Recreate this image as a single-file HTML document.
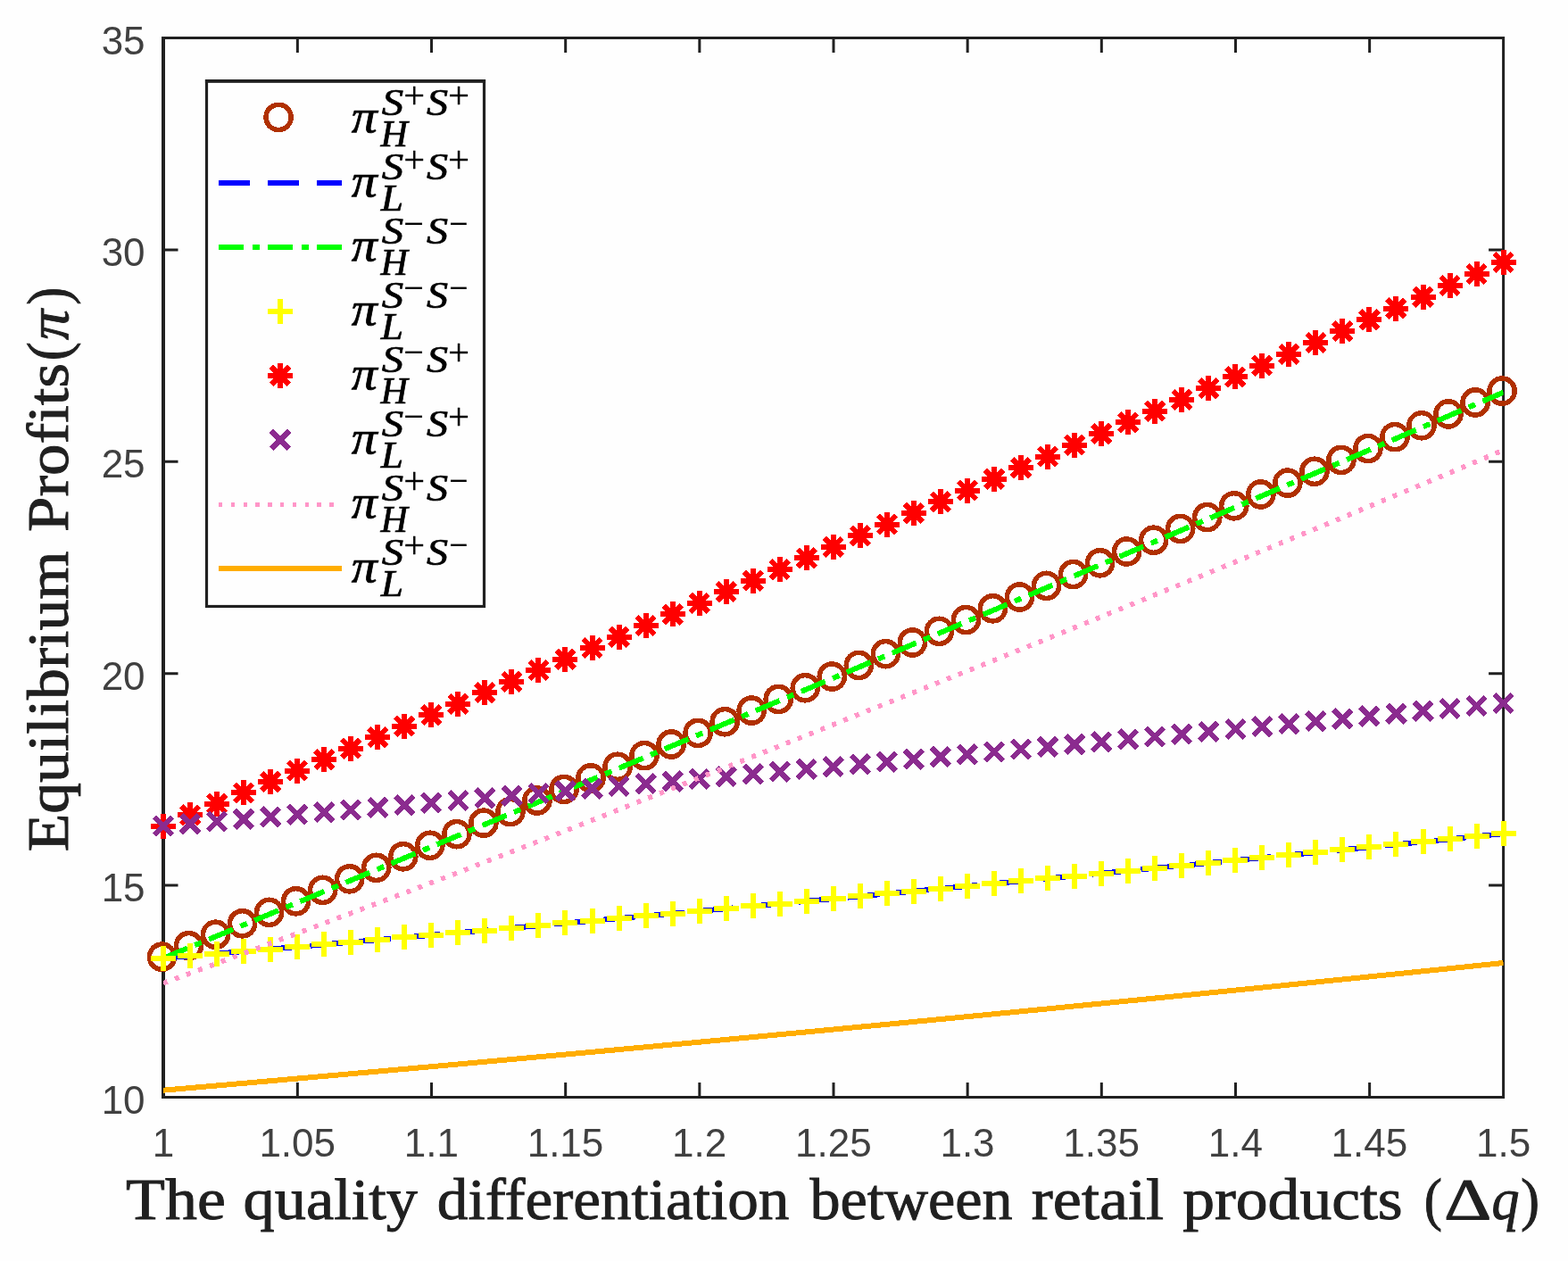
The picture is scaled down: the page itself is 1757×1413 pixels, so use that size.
<!DOCTYPE html>
<html lang="en"><head><meta charset="utf-8"><title>Equilibrium Profits</title>
<style>html,body{margin:0;padding:0;background:#fff;}svg{display:block;}.tk{font-family:"Liberation Sans",sans-serif;font-size:44px;fill:#404040;}.lb{font-family:"Liberation Serif",serif;font-size:65px;fill:#202020;stroke:#202020;stroke-width:0.9px;}.lg{font-family:"Liberation Serif",serif;fill:#000;stroke:#000;stroke-width:0.7px;}</style></head><body>
<svg width="1757" height="1413" viewBox="0 0 1757 1413">
<rect x="0" y="0" width="1757" height="1413" fill="#fefefe"/>
<defs><clipPath id="cp"><rect x="183.0" y="42.5" width="1501.6" height="1187.0"/></clipPath></defs>
<g fill="none" stroke="#202020" stroke-width="3">
<rect x="183.0" y="42.5" width="1501.6" height="1187.0"/>
<line x1="183.0" y1="41.0" x2="183.0" y2="1231.0" stroke-width="4"/>
<path d="M333.36 1229.50V1213.00M333.36 42.50V59.00M483.52 1229.50V1213.00M483.52 42.50V59.00M633.68 1229.50V1213.00M633.68 42.50V59.00M783.84 1229.50V1213.00M783.84 42.50V59.00M934.00 1229.50V1213.00M934.00 42.50V59.00M1084.16 1229.50V1213.00M1084.16 42.50V59.00M1234.32 1229.50V1213.00M1234.32 42.50V59.00M1384.48 1229.50V1213.00M1384.48 42.50V59.00M1534.64 1229.50V1213.00M1534.64 42.50V59.00M183.00 992.10H199.50M1684.60 992.10H1668.10M183.00 754.70H199.50M1684.60 754.70H1668.10M183.00 517.30H199.50M1684.60 517.30H1668.10M183.00 279.90H199.50M1684.60 279.90H1668.10"/>
</g>
<g class="tk">
<text x="183.0" y="1296" text-anchor="middle">1</text>
<text x="333.2" y="1296" text-anchor="middle">1.05</text>
<text x="483.3" y="1296" text-anchor="middle">1.1</text>
<text x="633.5" y="1296" text-anchor="middle">1.15</text>
<text x="783.6" y="1296" text-anchor="middle">1.2</text>
<text x="933.8" y="1296" text-anchor="middle">1.25</text>
<text x="1084.0" y="1296" text-anchor="middle">1.3</text>
<text x="1234.1" y="1296" text-anchor="middle">1.35</text>
<text x="1384.3" y="1296" text-anchor="middle">1.4</text>
<text x="1534.4" y="1296" text-anchor="middle">1.45</text>
<text x="1684.6" y="1296" text-anchor="middle">1.5</text>
<text x="162.6" y="1247.5" text-anchor="end">10</text>
<text x="162.6" y="1010.1" text-anchor="end">15</text>
<text x="162.6" y="772.7" text-anchor="end">20</text>
<text x="162.6" y="535.3" text-anchor="end">25</text>
<text x="162.6" y="297.9" text-anchor="end">30</text>
<text x="162.6" y="60.5" text-anchor="end">35</text>
</g>
<g shape-rendering="crispEdges">
<g fill="none" stroke="#B03000" stroke-width="5.5"><circle cx="181.50" cy="1072.17" r="14.1"/><circle cx="211.53" cy="1059.72" r="14.1"/><circle cx="241.56" cy="1047.26" r="14.1"/><circle cx="271.60" cy="1034.79" r="14.1"/><circle cx="301.63" cy="1022.31" r="14.1"/><circle cx="331.66" cy="1009.82" r="14.1"/><circle cx="361.69" cy="997.33" r="14.1"/><circle cx="391.72" cy="984.82" r="14.1"/><circle cx="421.76" cy="972.31" r="14.1"/><circle cx="451.79" cy="959.78" r="14.1"/><circle cx="481.82" cy="947.25" r="14.1"/><circle cx="511.85" cy="934.70" r="14.1"/><circle cx="541.88" cy="922.15" r="14.1"/><circle cx="571.92" cy="909.58" r="14.1"/><circle cx="601.95" cy="897.01" r="14.1"/><circle cx="631.98" cy="884.43" r="14.1"/><circle cx="662.01" cy="871.84" r="14.1"/><circle cx="692.04" cy="859.24" r="14.1"/><circle cx="722.08" cy="846.63" r="14.1"/><circle cx="752.11" cy="834.01" r="14.1"/><circle cx="782.14" cy="821.38" r="14.1"/><circle cx="812.17" cy="808.74" r="14.1"/><circle cx="842.20" cy="796.09" r="14.1"/><circle cx="872.24" cy="783.43" r="14.1"/><circle cx="902.27" cy="770.76" r="14.1"/><circle cx="932.30" cy="758.09" r="14.1"/><circle cx="962.33" cy="745.40" r="14.1"/><circle cx="992.36" cy="732.70" r="14.1"/><circle cx="1022.40" cy="720.00" r="14.1"/><circle cx="1052.43" cy="707.28" r="14.1"/><circle cx="1082.46" cy="694.56" r="14.1"/><circle cx="1112.49" cy="681.82" r="14.1"/><circle cx="1142.52" cy="669.08" r="14.1"/><circle cx="1172.56" cy="656.33" r="14.1"/><circle cx="1202.59" cy="643.56" r="14.1"/><circle cx="1232.62" cy="630.79" r="14.1"/><circle cx="1262.65" cy="618.01" r="14.1"/><circle cx="1292.68" cy="605.22" r="14.1"/><circle cx="1322.72" cy="592.42" r="14.1"/><circle cx="1352.75" cy="579.61" r="14.1"/><circle cx="1382.78" cy="566.79" r="14.1"/><circle cx="1412.81" cy="553.96" r="14.1"/><circle cx="1442.84" cy="541.12" r="14.1"/><circle cx="1472.88" cy="528.27" r="14.1"/><circle cx="1502.91" cy="515.42" r="14.1"/><circle cx="1532.94" cy="502.55" r="14.1"/><circle cx="1562.97" cy="489.67" r="14.1"/><circle cx="1593.00" cy="476.79" r="14.1"/><circle cx="1623.04" cy="463.89" r="14.1"/><circle cx="1653.07" cy="450.98" r="14.1"/><circle cx="1683.10" cy="438.07" r="14.1"/></g>
<polyline points="183.00,1073.77 213.03,1071.22 243.06,1068.66 273.10,1066.09 303.13,1063.51 333.16,1060.92 363.19,1058.32 393.22,1055.71 423.26,1053.09 453.29,1050.46 483.32,1047.82 513.35,1045.17 543.38,1042.52 573.42,1039.85 603.45,1037.17 633.48,1034.48 663.51,1031.78 693.54,1029.07 723.58,1026.36 753.61,1023.63 783.64,1020.89 813.67,1018.14 843.70,1015.39 873.74,1012.62 903.77,1009.84 933.80,1007.06 963.83,1004.26 993.86,1001.45 1023.90,998.64 1053.93,995.81 1083.96,992.97 1113.99,990.13 1144.02,987.27 1174.06,984.41 1204.09,981.53 1234.12,978.64 1264.15,975.75 1294.18,972.84 1324.22,969.93 1354.25,967.00 1384.28,964.07 1414.31,961.12 1444.34,958.17 1474.38,955.20 1504.41,952.23 1534.44,949.24 1564.47,946.25 1594.50,943.25 1624.54,940.23 1654.57,937.21 1684.60,934.17" fill="none" stroke="#0000FF" stroke-width="6.0" stroke-dasharray="36 19" clip-path="url(#cp)"/>
<polyline points="183.00,1073.77 213.03,1061.32 243.06,1048.86 273.10,1036.39 303.13,1023.91 333.16,1011.42 363.19,998.93 393.22,986.42 423.26,973.91 453.29,961.38 483.32,948.85 513.35,936.30 543.38,923.75 573.42,911.18 603.45,898.61 633.48,886.03 663.51,873.44 693.54,860.84 723.58,848.23 753.61,835.61 783.64,822.98 813.67,810.34 843.70,797.69 873.74,785.03 903.77,772.36 933.80,759.69 963.83,747.00 993.86,734.30 1023.90,721.60 1053.93,708.88 1083.96,696.16 1113.99,683.42 1144.02,670.68 1174.06,657.93 1204.09,645.16 1234.12,632.39 1264.15,619.61 1294.18,606.82 1324.22,594.02 1354.25,581.21 1384.28,568.39 1414.31,555.56 1444.34,542.72 1474.38,529.87 1504.41,517.02 1534.44,504.15 1564.47,491.27 1594.50,478.39 1624.54,465.49 1654.57,452.58 1684.60,439.67" fill="none" stroke="#00FF00" stroke-width="6.0" stroke-dasharray="29.2 9.05 8.05 9.04" clip-path="url(#cp)"/>
<path d="M169.00 1073.77h28m-14 -14v28M199.03 1071.22h28m-14 -14v28M229.06 1068.66h28m-14 -14v28M259.10 1066.09h28m-14 -14v28M289.13 1063.51h28m-14 -14v28M319.16 1060.92h28m-14 -14v28M349.19 1058.32h28m-14 -14v28M379.22 1055.71h28m-14 -14v28M409.26 1053.09h28m-14 -14v28M439.29 1050.46h28m-14 -14v28M469.32 1047.82h28m-14 -14v28M499.35 1045.17h28m-14 -14v28M529.38 1042.52h28m-14 -14v28M559.42 1039.85h28m-14 -14v28M589.45 1037.17h28m-14 -14v28M619.48 1034.48h28m-14 -14v28M649.51 1031.78h28m-14 -14v28M679.54 1029.07h28m-14 -14v28M709.58 1026.36h28m-14 -14v28M739.61 1023.63h28m-14 -14v28M769.64 1020.89h28m-14 -14v28M799.67 1018.14h28m-14 -14v28M829.70 1015.39h28m-14 -14v28M859.74 1012.62h28m-14 -14v28M889.77 1009.84h28m-14 -14v28M919.80 1007.06h28m-14 -14v28M949.83 1004.26h28m-14 -14v28M979.86 1001.45h28m-14 -14v28M1009.90 998.64h28m-14 -14v28M1039.93 995.81h28m-14 -14v28M1069.96 992.97h28m-14 -14v28M1099.99 990.13h28m-14 -14v28M1130.02 987.27h28m-14 -14v28M1160.06 984.41h28m-14 -14v28M1190.09 981.53h28m-14 -14v28M1220.12 978.64h28m-14 -14v28M1250.15 975.75h28m-14 -14v28M1280.18 972.84h28m-14 -14v28M1310.22 969.93h28m-14 -14v28M1340.25 967.00h28m-14 -14v28M1370.28 964.07h28m-14 -14v28M1400.31 961.12h28m-14 -14v28M1430.34 958.17h28m-14 -14v28M1460.38 955.20h28m-14 -14v28M1490.41 952.23h28m-14 -14v28M1520.44 949.24h28m-14 -14v28M1550.47 946.25h28m-14 -14v28M1580.50 943.25h28m-14 -14v28M1610.54 940.23h28m-14 -14v28M1640.57 937.21h28m-14 -14v28M1670.60 934.17h28m-14 -14v28" fill="none" stroke="#FFFF00" stroke-width="6.0"/>
<path d="M169.00 925.63h28m-14 -14v28m-10 -24l20 20m-20 0l20 -20M199.03 913.23h28m-14 -14v28m-10 -24l20 20m-20 0l20 -20M229.06 900.82h28m-14 -14v28m-10 -24l20 20m-20 0l20 -20M259.10 888.41h28m-14 -14v28m-10 -24l20 20m-20 0l20 -20M289.13 875.98h28m-14 -14v28m-10 -24l20 20m-20 0l20 -20M319.16 863.55h28m-14 -14v28m-10 -24l20 20m-20 0l20 -20M349.19 851.10h28m-14 -14v28m-10 -24l20 20m-20 0l20 -20M379.22 838.65h28m-14 -14v28m-10 -24l20 20m-20 0l20 -20M409.26 826.19h28m-14 -14v28m-10 -24l20 20m-20 0l20 -20M439.29 813.71h28m-14 -14v28m-10 -24l20 20m-20 0l20 -20M469.32 801.23h28m-14 -14v28m-10 -24l20 20m-20 0l20 -20M499.35 788.74h28m-14 -14v28m-10 -24l20 20m-20 0l20 -20M529.38 776.24h28m-14 -14v28m-10 -24l20 20m-20 0l20 -20M559.42 763.73h28m-14 -14v28m-10 -24l20 20m-20 0l20 -20M589.45 751.21h28m-14 -14v28m-10 -24l20 20m-20 0l20 -20M619.48 738.68h28m-14 -14v28m-10 -24l20 20m-20 0l20 -20M649.51 726.14h28m-14 -14v28m-10 -24l20 20m-20 0l20 -20M679.54 713.59h28m-14 -14v28m-10 -24l20 20m-20 0l20 -20M709.58 701.03h28m-14 -14v28m-10 -24l20 20m-20 0l20 -20M739.61 688.46h28m-14 -14v28m-10 -24l20 20m-20 0l20 -20M769.64 675.88h28m-14 -14v28m-10 -24l20 20m-20 0l20 -20M799.67 663.30h28m-14 -14v28m-10 -24l20 20m-20 0l20 -20M829.70 650.70h28m-14 -14v28m-10 -24l20 20m-20 0l20 -20M859.74 638.09h28m-14 -14v28m-10 -24l20 20m-20 0l20 -20M889.77 625.48h28m-14 -14v28m-10 -24l20 20m-20 0l20 -20M919.80 612.85h28m-14 -14v28m-10 -24l20 20m-20 0l20 -20M949.83 600.22h28m-14 -14v28m-10 -24l20 20m-20 0l20 -20M979.86 587.58h28m-14 -14v28m-10 -24l20 20m-20 0l20 -20M1009.90 574.92h28m-14 -14v28m-10 -24l20 20m-20 0l20 -20M1039.93 562.26h28m-14 -14v28m-10 -24l20 20m-20 0l20 -20M1069.96 549.59h28m-14 -14v28m-10 -24l20 20m-20 0l20 -20M1099.99 536.90h28m-14 -14v28m-10 -24l20 20m-20 0l20 -20M1130.02 524.21h28m-14 -14v28m-10 -24l20 20m-20 0l20 -20M1160.06 511.51h28m-14 -14v28m-10 -24l20 20m-20 0l20 -20M1190.09 498.80h28m-14 -14v28m-10 -24l20 20m-20 0l20 -20M1220.12 486.08h28m-14 -14v28m-10 -24l20 20m-20 0l20 -20M1250.15 473.35h28m-14 -14v28m-10 -24l20 20m-20 0l20 -20M1280.18 460.61h28m-14 -14v28m-10 -24l20 20m-20 0l20 -20M1310.22 447.87h28m-14 -14v28m-10 -24l20 20m-20 0l20 -20M1340.25 435.11h28m-14 -14v28m-10 -24l20 20m-20 0l20 -20M1370.28 422.34h28m-14 -14v28m-10 -24l20 20m-20 0l20 -20M1400.31 409.56h28m-14 -14v28m-10 -24l20 20m-20 0l20 -20M1430.34 396.78h28m-14 -14v28m-10 -24l20 20m-20 0l20 -20M1460.38 383.98h28m-14 -14v28m-10 -24l20 20m-20 0l20 -20M1490.41 371.18h28m-14 -14v28m-10 -24l20 20m-20 0l20 -20M1520.44 358.36h28m-14 -14v28m-10 -24l20 20m-20 0l20 -20M1550.47 345.54h28m-14 -14v28m-10 -24l20 20m-20 0l20 -20M1580.50 332.70h28m-14 -14v28m-10 -24l20 20m-20 0l20 -20M1610.54 319.86h28m-14 -14v28m-10 -24l20 20m-20 0l20 -20M1640.57 307.01h28m-14 -14v28m-10 -24l20 20m-20 0l20 -20M1670.60 294.14h28m-14 -14v28m-10 -24l20 20m-20 0l20 -20" fill="none" stroke="#FF0000" stroke-width="6.0"/>
<path d="M173.00 915.63l20 20m-20 0l20 -20M203.03 913.06l20 20m-20 0l20 -20M233.06 910.48l20 20m-20 0l20 -20M263.10 907.90l20 20m-20 0l20 -20M293.13 905.31l20 20m-20 0l20 -20M323.16 902.71l20 20m-20 0l20 -20M353.19 900.11l20 20m-20 0l20 -20M383.22 897.49l20 20m-20 0l20 -20M413.26 894.87l20 20m-20 0l20 -20M443.29 892.25l20 20m-20 0l20 -20M473.32 889.61l20 20m-20 0l20 -20M503.35 886.97l20 20m-20 0l20 -20M533.38 884.31l20 20m-20 0l20 -20M563.42 881.66l20 20m-20 0l20 -20M593.45 878.99l20 20m-20 0l20 -20M623.48 876.31l20 20m-20 0l20 -20M653.51 873.63l20 20m-20 0l20 -20M683.54 870.94l20 20m-20 0l20 -20M713.58 868.25l20 20m-20 0l20 -20M743.61 865.54l20 20m-20 0l20 -20M773.64 862.83l20 20m-20 0l20 -20M803.67 860.11l20 20m-20 0l20 -20M833.70 857.38l20 20m-20 0l20 -20M863.74 854.65l20 20m-20 0l20 -20M893.77 851.91l20 20m-20 0l20 -20M923.80 849.16l20 20m-20 0l20 -20M953.83 846.40l20 20m-20 0l20 -20M983.86 843.63l20 20m-20 0l20 -20M1013.90 840.86l20 20m-20 0l20 -20M1043.93 838.08l20 20m-20 0l20 -20M1073.96 835.29l20 20m-20 0l20 -20M1103.99 832.50l20 20m-20 0l20 -20M1134.02 829.69l20 20m-20 0l20 -20M1164.06 826.88l20 20m-20 0l20 -20M1194.09 824.06l20 20m-20 0l20 -20M1224.12 821.24l20 20m-20 0l20 -20M1254.15 818.40l20 20m-20 0l20 -20M1284.18 815.56l20 20m-20 0l20 -20M1314.22 812.71l20 20m-20 0l20 -20M1344.25 809.86l20 20m-20 0l20 -20M1374.28 806.99l20 20m-20 0l20 -20M1404.31 804.12l20 20m-20 0l20 -20M1434.34 801.24l20 20m-20 0l20 -20M1464.38 798.36l20 20m-20 0l20 -20M1494.41 795.46l20 20m-20 0l20 -20M1524.44 792.56l20 20m-20 0l20 -20M1554.47 789.65l20 20m-20 0l20 -20M1584.50 786.73l20 20m-20 0l20 -20M1614.54 783.81l20 20m-20 0l20 -20M1644.57 780.88l20 20m-20 0l20 -20M1674.60 777.94l20 20m-20 0l20 -20" fill="none" stroke="#8B2B8F" stroke-width="6.0"/>
<polyline points="183.00,1101.78 213.03,1090.65 243.06,1079.49 273.10,1068.30 303.13,1057.08 333.16,1045.83 363.19,1034.55 393.22,1023.25 423.26,1011.91 453.29,1000.55 483.32,989.16 513.35,977.71 543.38,966.06 573.42,954.38 603.45,942.67 633.48,930.94 663.51,919.11 693.54,907.19 723.58,895.28 753.61,883.45 783.64,871.60 813.67,859.71 843.70,847.79 873.74,835.84 903.77,823.87 933.80,811.87 963.83,799.92 993.86,787.94 1023.90,775.93 1053.93,763.90 1083.96,751.83 1113.99,739.74 1144.02,727.62 1174.06,715.47 1204.09,703.29 1234.12,691.08 1264.15,678.84 1294.18,666.57 1324.22,654.28 1354.25,641.95 1384.28,629.60 1414.31,617.22 1444.34,604.81 1474.38,592.37 1504.41,579.90 1534.44,567.40 1564.47,554.87 1594.50,542.32 1624.54,529.74 1654.57,517.12 1684.60,504.48" fill="none" stroke="#FF96C8" stroke-width="5.6" stroke-dasharray="5 8.85" clip-path="url(#cp)"/>
<polyline points="183.00,1221.67 213.03,1219.06 243.06,1216.45 273.10,1213.83 303.13,1211.20 333.16,1208.55 363.19,1205.90 393.22,1203.23 423.26,1200.56 453.29,1197.88 483.32,1195.18 513.35,1192.48 543.38,1189.76 573.42,1187.04 603.45,1184.30 633.48,1181.55 663.51,1178.80 693.54,1176.03 723.58,1173.26 753.61,1170.47 783.64,1167.67 813.67,1164.86 843.70,1162.05 873.74,1159.22 903.77,1156.38 933.80,1153.53 963.83,1150.67 993.86,1147.80 1023.90,1144.93 1053.93,1142.04 1083.96,1139.14 1113.99,1136.23 1144.02,1133.31 1174.06,1130.38 1204.09,1127.43 1234.12,1124.48 1264.15,1121.52 1294.18,1118.55 1324.22,1115.57 1354.25,1112.58 1384.28,1109.58 1414.31,1106.56 1444.34,1103.54 1474.38,1100.51 1504.41,1097.46 1534.44,1094.41 1564.47,1091.35 1594.50,1088.27 1624.54,1085.19 1654.57,1082.09 1684.60,1078.99" fill="none" stroke="#FFAD00" stroke-width="6.0" clip-path="url(#cp)"/>
</g>
<rect x="231.5" y="90.8" width="311.0" height="588.7" fill="#fefefe" stroke="#202020" stroke-width="3.2"/>
<line x1="229.9" y1="90.8" x2="544.1" y2="90.8" stroke="#202020" stroke-width="3.8"/>
<g shape-rendering="crispEdges">
<g fill="none" stroke="#B03000" stroke-width="5.5"><circle cx="312.10" cy="131.40" r="14.1"/></g>
<line x1="244.9" y1="205.0" x2="383.1" y2="205.0" stroke="#0000FF" stroke-width="6.0" stroke-dasharray="35.5 19.5"/>
<line x1="244.9" y1="277.0" x2="383.1" y2="277.0" stroke="#00FF00" stroke-width="6.0" stroke-dasharray="28.5 9.5 8.2 8.8"/>
<path d="M300.00 349.00h28m-14 -14v28" fill="none" stroke="#FFFF00" stroke-width="6.0"/>
<path d="M300.00 421.00h28m-14 -14v28m-10 -24l20 20m-20 0l20 -20" fill="none" stroke="#FF0000" stroke-width="6.0"/>
<path d="M304.00 483.00l20 20m-20 0l20 -20" fill="none" stroke="#8B2B8F" stroke-width="6.0"/>
<line x1="244.9" y1="565.5" x2="376.1" y2="565.5" stroke="#FF96C8" stroke-width="5.2" stroke-dasharray="4.5 9.3"/>
<line x1="244.9" y1="637.0" x2="383.1" y2="637.0" stroke="#FFAD00" stroke-width="6.0"/>
</g>
<g class="lg">
<text xml:space="preserve"><tspan x="393.71" y="148.30" font-style="italic" textLength="28.98" lengthAdjust="spacingAndGlyphs" font-size="52.0">π</tspan><tspan x="427.80" y="128.60" font-style="italic" textLength="24.39" lengthAdjust="spacingAndGlyphs" font-size="43.0">S</tspan><tspan x="452.17" y="121.10" textLength="23.85" lengthAdjust="spacingAndGlyphs" font-size="42.5" stroke-width="0.3">+</tspan><tspan x="477.90" y="128.60" font-style="italic" textLength="24.08" lengthAdjust="spacingAndGlyphs" font-size="43.0">S</tspan><tspan x="501.95" y="121.10" textLength="24.09" lengthAdjust="spacingAndGlyphs" font-size="42.5" stroke-width="0.3">+</tspan><tspan x="426.63" y="163.60" font-style="italic" textLength="30.41" lengthAdjust="spacingAndGlyphs" font-size="41.5">H</tspan></text>
<text xml:space="preserve"><tspan x="393.71" y="220.30" font-style="italic" textLength="28.98" lengthAdjust="spacingAndGlyphs" font-size="52.0">π</tspan><tspan x="427.80" y="200.60" font-style="italic" textLength="24.39" lengthAdjust="spacingAndGlyphs" font-size="43.0">S</tspan><tspan x="452.17" y="193.10" textLength="23.85" lengthAdjust="spacingAndGlyphs" font-size="42.5" stroke-width="0.3">+</tspan><tspan x="477.90" y="200.60" font-style="italic" textLength="24.08" lengthAdjust="spacingAndGlyphs" font-size="43.0">S</tspan><tspan x="501.95" y="193.10" textLength="24.09" lengthAdjust="spacingAndGlyphs" font-size="42.5" stroke-width="0.3">+</tspan><tspan x="426.67" y="235.60" font-style="italic" textLength="25.29" lengthAdjust="spacingAndGlyphs" font-size="41.5">L</tspan></text>
<text xml:space="preserve"><tspan x="393.71" y="292.30" font-style="italic" textLength="28.98" lengthAdjust="spacingAndGlyphs" font-size="52.0">π</tspan><tspan x="427.80" y="272.60" font-style="italic" textLength="24.39" lengthAdjust="spacingAndGlyphs" font-size="43.0">S</tspan><tspan x="452.27" y="265.10" textLength="22.64" lengthAdjust="spacingAndGlyphs" font-size="42.5" stroke-width="0.3">−</tspan><tspan x="477.90" y="272.60" font-style="italic" textLength="24.08" lengthAdjust="spacingAndGlyphs" font-size="43.0">S</tspan><tspan x="503.29" y="265.10" textLength="21.30" lengthAdjust="spacingAndGlyphs" font-size="42.5" stroke-width="0.3">−</tspan><tspan x="426.63" y="307.60" font-style="italic" textLength="30.41" lengthAdjust="spacingAndGlyphs" font-size="41.5">H</tspan></text>
<text xml:space="preserve"><tspan x="393.71" y="364.30" font-style="italic" textLength="28.98" lengthAdjust="spacingAndGlyphs" font-size="52.0">π</tspan><tspan x="427.80" y="344.60" font-style="italic" textLength="24.39" lengthAdjust="spacingAndGlyphs" font-size="43.0">S</tspan><tspan x="452.27" y="337.10" textLength="22.64" lengthAdjust="spacingAndGlyphs" font-size="42.5" stroke-width="0.3">−</tspan><tspan x="477.90" y="344.60" font-style="italic" textLength="24.08" lengthAdjust="spacingAndGlyphs" font-size="43.0">S</tspan><tspan x="503.29" y="337.10" textLength="21.30" lengthAdjust="spacingAndGlyphs" font-size="42.5" stroke-width="0.3">−</tspan><tspan x="426.67" y="379.60" font-style="italic" textLength="25.29" lengthAdjust="spacingAndGlyphs" font-size="41.5">L</tspan></text>
<text xml:space="preserve"><tspan x="393.71" y="436.30" font-style="italic" textLength="28.98" lengthAdjust="spacingAndGlyphs" font-size="52.0">π</tspan><tspan x="427.80" y="416.60" font-style="italic" textLength="24.39" lengthAdjust="spacingAndGlyphs" font-size="43.0">S</tspan><tspan x="452.27" y="409.10" textLength="22.64" lengthAdjust="spacingAndGlyphs" font-size="42.5" stroke-width="0.3">−</tspan><tspan x="477.90" y="416.60" font-style="italic" textLength="24.08" lengthAdjust="spacingAndGlyphs" font-size="43.0">S</tspan><tspan x="501.95" y="409.10" textLength="24.09" lengthAdjust="spacingAndGlyphs" font-size="42.5" stroke-width="0.3">+</tspan><tspan x="426.63" y="451.60" font-style="italic" textLength="30.41" lengthAdjust="spacingAndGlyphs" font-size="41.5">H</tspan></text>
<text xml:space="preserve"><tspan x="393.71" y="508.30" font-style="italic" textLength="28.98" lengthAdjust="spacingAndGlyphs" font-size="52.0">π</tspan><tspan x="427.80" y="488.60" font-style="italic" textLength="24.39" lengthAdjust="spacingAndGlyphs" font-size="43.0">S</tspan><tspan x="452.27" y="481.10" textLength="22.64" lengthAdjust="spacingAndGlyphs" font-size="42.5" stroke-width="0.3">−</tspan><tspan x="477.90" y="488.60" font-style="italic" textLength="24.08" lengthAdjust="spacingAndGlyphs" font-size="43.0">S</tspan><tspan x="501.95" y="481.10" textLength="24.09" lengthAdjust="spacingAndGlyphs" font-size="42.5" stroke-width="0.3">+</tspan><tspan x="426.67" y="523.60" font-style="italic" textLength="25.29" lengthAdjust="spacingAndGlyphs" font-size="41.5">L</tspan></text>
<text xml:space="preserve"><tspan x="393.71" y="580.30" font-style="italic" textLength="28.98" lengthAdjust="spacingAndGlyphs" font-size="52.0">π</tspan><tspan x="427.80" y="560.60" font-style="italic" textLength="24.39" lengthAdjust="spacingAndGlyphs" font-size="43.0">S</tspan><tspan x="452.17" y="553.10" textLength="23.85" lengthAdjust="spacingAndGlyphs" font-size="42.5" stroke-width="0.3">+</tspan><tspan x="477.90" y="560.60" font-style="italic" textLength="24.08" lengthAdjust="spacingAndGlyphs" font-size="43.0">S</tspan><tspan x="503.29" y="553.10" textLength="21.30" lengthAdjust="spacingAndGlyphs" font-size="42.5" stroke-width="0.3">−</tspan><tspan x="426.63" y="595.60" font-style="italic" textLength="30.41" lengthAdjust="spacingAndGlyphs" font-size="41.5">H</tspan></text>
<text xml:space="preserve"><tspan x="393.71" y="652.30" font-style="italic" textLength="28.98" lengthAdjust="spacingAndGlyphs" font-size="52.0">π</tspan><tspan x="427.80" y="632.60" font-style="italic" textLength="24.39" lengthAdjust="spacingAndGlyphs" font-size="43.0">S</tspan><tspan x="452.17" y="625.10" textLength="23.85" lengthAdjust="spacingAndGlyphs" font-size="42.5" stroke-width="0.3">+</tspan><tspan x="477.90" y="632.60" font-style="italic" textLength="24.08" lengthAdjust="spacingAndGlyphs" font-size="43.0">S</tspan><tspan x="503.29" y="625.10" textLength="21.30" lengthAdjust="spacingAndGlyphs" font-size="42.5" stroke-width="0.3">−</tspan><tspan x="426.67" y="667.60" font-style="italic" textLength="25.29" lengthAdjust="spacingAndGlyphs" font-size="41.5">L</tspan></text>
</g>
<text class="lb" y="1365.6" xml:space="preserve"><tspan x="141.09" textLength="129.70" lengthAdjust="spacingAndGlyphs">The </tspan><tspan x="272.59" textLength="212.98" lengthAdjust="spacingAndGlyphs">quality </tspan><tspan x="489.83" textLength="411.83" lengthAdjust="spacingAndGlyphs">differentiation </tspan><tspan x="907.50" textLength="244.21" lengthAdjust="spacingAndGlyphs">between </tspan><tspan x="1155.78" textLength="166.49" lengthAdjust="spacingAndGlyphs">retail </tspan><tspan x="1325.17" textLength="264.48" lengthAdjust="spacingAndGlyphs">products </tspan><tspan x="1595.69" textLength="20.21" lengthAdjust="spacingAndGlyphs">(</tspan><tspan x="1617.91" textLength="53.31" lengthAdjust="spacingAndGlyphs">Δ</tspan><tspan x="1671.54" font-style="italic" textLength="30.91" lengthAdjust="spacingAndGlyphs">q</tspan><tspan x="1703.99" textLength="21.13" lengthAdjust="spacingAndGlyphs">)</tspan></text>
<text class="lb" transform="translate(76 0) rotate(-90)" y="0" xml:space="preserve"><tspan x="-954.36" textLength="354.38" lengthAdjust="spacingAndGlyphs">Equilibrium </tspan><tspan x="-595.90" textLength="188.99" lengthAdjust="spacingAndGlyphs">Profits</tspan><tspan x="-404.13" textLength="21.13" lengthAdjust="spacingAndGlyphs">(</tspan><tspan x="-381.06" font-style="italic" textLength="34.04" lengthAdjust="spacingAndGlyphs">π</tspan><tspan x="-341.81" textLength="20.08" lengthAdjust="spacingAndGlyphs">)</tspan></text>
</svg></body></html>
